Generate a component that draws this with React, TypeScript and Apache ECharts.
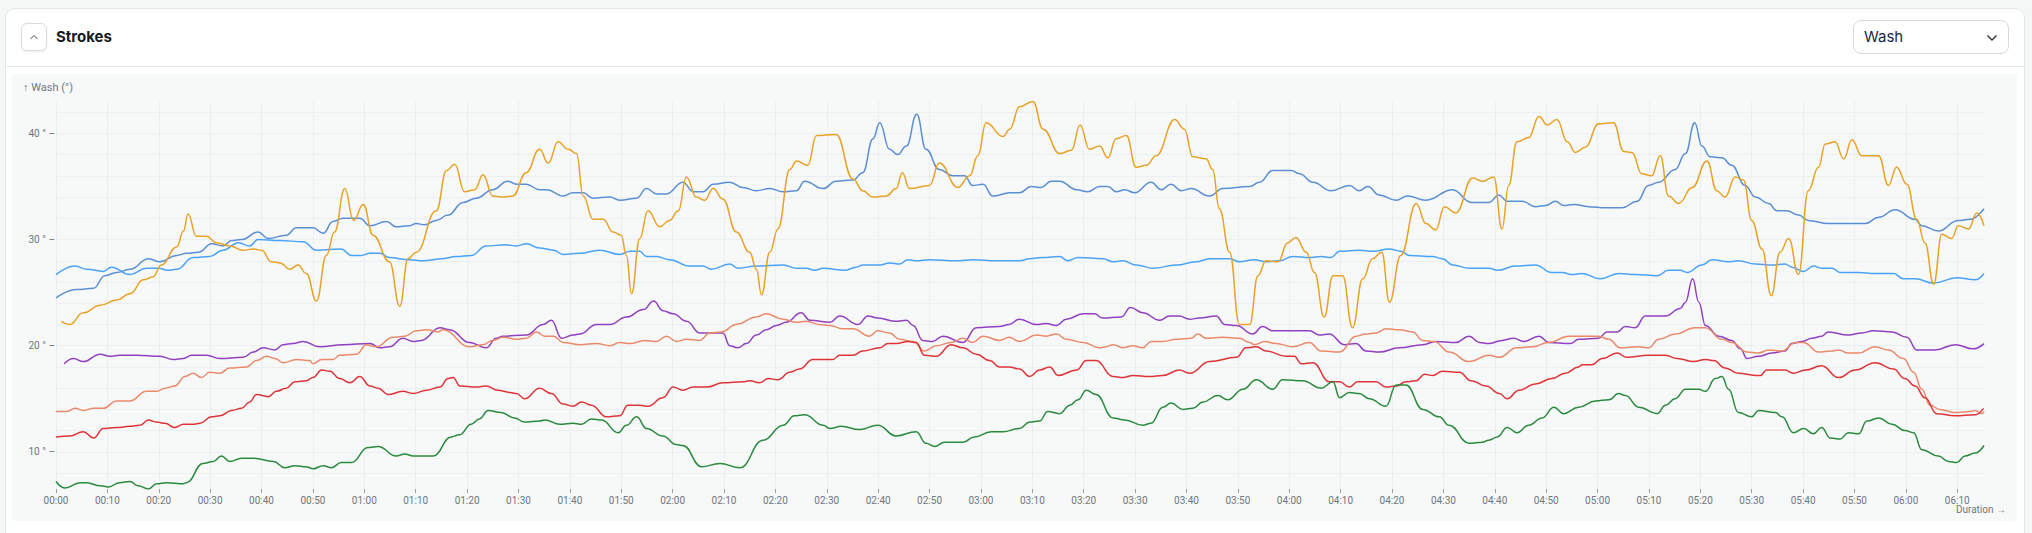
import { useEffect, useRef } from "react";
import * as echarts from "echarts";

// [minutes since start, wash angle in degrees]
const steelBlue: [number, number][] = [
  [0, 24.5], [4, 25.3], [7.3, 25.4], [9.5, 26.6], [11.8, 26.9], [14.4, 27.2], [18, 28.2], [20.2, 27.9],
  [23.5, 28.5], [25.4, 28.7], [27.7, 28.8], [30.3, 29.6], [32.5, 29.4], [34.2, 29.9], [36.1, 30.0],
  [39.3, 30.7], [41.3, 30.1], [44.8, 30.4], [46.8, 31.1], [50, 31.1], [52, 30.6], [53.9, 31.7],
  [55.9, 32.0], [59.1, 32.0], [61.1, 31.3], [64.3, 31.7], [66.2, 31.2], [68.8, 31.3], [70.1, 31.5],
  [71.7, 31.4], [74, 31.8], [76.3, 32.3], [79.2, 33.5], [81.8, 33.9], [85, 34.7], [87.9, 35.5],
  [89.6, 35.2], [91.5, 35.2], [94.1, 34.7], [95.5, 34.7], [98.7, 34.1], [100.6, 34.4], [102.6, 34.4],
  [104.5, 33.9], [107.8, 34.0], [109.7, 33.7], [113, 33.9], [114.9, 34.8], [116.9, 34.3], [118.8, 34.3],
  [122, 35.4], [124, 34.5], [125.9, 34.5], [127.9, 35.2], [131.1, 35.4], [133.7, 34.9], [136.3, 34.6],
  [138.9, 34.8], [141.5, 34.5], [144.1, 34.6], [145.7, 35.5], [149.3, 34.8], [151.8, 35.5], [155.1, 35.6],
  [157, 36.3], [159, 39.5], [160.3, 41.0], [162.2, 38.5], [163.8, 38.0], [165.5, 38.8], [167.5, 41.8],
  [169.3, 38.5], [171.9, 36.6], [174.5, 36.0], [176.8, 36.0], [178.4, 35.1], [180.4, 35.2], [182.3, 34.1],
  [185.6, 34.4], [187.5, 34.4], [189.8, 35.0], [191.7, 34.9], [193.7, 35.5], [195.3, 35.5], [198.6, 34.7],
  [200.8, 34.5], [203.1, 35.0], [204.7, 35.0], [206.3, 34.5], [208, 34.7], [209.9, 34.4], [213.1, 35.4],
  [215.1, 34.7], [217, 35.2], [219, 34.6], [220.9, 34.8], [224.5, 34.1], [227.1, 34.8], [232.3, 35.0],
  [234.2, 35.4], [236.8, 36.5], [240.4, 36.5], [242, 36.2], [244.6, 35.4], [248.1, 34.6], [251.7, 35.1],
  [253.6, 34.6], [255.3, 35.0], [257.5, 34.2], [260.8, 33.7], [263, 34.1], [266.6, 33.7], [271.8, 34.7],
  [275.4, 33.5], [278.9, 33.5], [280.8, 34.2], [282.4, 33.6], [285.3, 33.6], [287.9, 33.1], [289.9, 33.2],
  [291.8, 33.6], [293.4, 33.2], [295.4, 33.3], [298.3, 33.1], [301.5, 33.0], [304.8, 33.0], [307.7, 33.6],
  [309.9, 35.1], [311.9, 35.4], [315.1, 36.6], [317.1, 38.1], [318.9, 41.0], [320.3, 38.8], [321.9, 37.8],
  [324.2, 37.7], [326.1, 37.0], [328.7, 35.1], [330.7, 34.0], [333.3, 33.4], [334.9, 32.7], [336.8, 32.7],
  [339.1, 32.3], [341, 31.8], [344.9, 31.5], [348.8, 31.5], [352.1, 31.5], [354.7, 32.1], [357.9, 32.8],
  [361.8, 31.9], [363.1, 31.3], [366.3, 30.8], [370.2, 31.8], [372.5, 31.9], [375.2, 32.9],
];

const lightBlue: [number, number][] = [
  [0, 26.7], [3.7, 27.5], [6, 27.2], [9.2, 27.0], [10.8, 27.4], [14.4, 26.7], [17.6, 27.3], [19.9, 27.3],
  [21.8, 27.1], [23.5, 27.2], [26.7, 28.3], [29.9, 28.4], [32.5, 29.0], [35.5, 29.7], [37.7, 29.4],
  [39.3, 30.0], [43.6, 29.9], [48.1, 29.8], [50.7, 29.0], [55.5, 29.1], [57.5, 28.5], [59.4, 28.5],
  [61.1, 28.7], [63, 28.7], [64.9, 28.3], [68.8, 28.1], [71.4, 28.0], [75.3, 28.2], [77.9, 28.4],
  [80.8, 28.5], [83.7, 29.4], [87.6, 29.5], [89.6, 29.4], [91.5, 29.6], [94.1, 29.2], [96.8, 29.0],
  [98.7, 28.6], [101.9, 28.7], [105.8, 29.0], [109.7, 28.6], [111.7, 28.9], [113.6, 28.9], [114.9, 28.4],
  [116.9, 28.4], [119.4, 28.1], [123.3, 27.5], [125.9, 27.5], [127.5, 27.2], [131.1, 27.7], [132.7, 27.3],
  [136.3, 27.5], [141.5, 27.6], [144.1, 27.3], [146, 27.3], [147.6, 27.1], [149.3, 27.3], [153.5, 27.1],
  [155.7, 27.4], [157, 27.6], [160.3, 27.6], [162.2, 27.8], [164.2, 27.7], [165.8, 28.1], [167.4, 28.0],
  [170, 28.1], [175.2, 28.0], [178.4, 28.1], [183, 28.0], [187.5, 28.0], [189.5, 28.2], [192.1, 28.3],
  [195.3, 28.4], [196.9, 28.0], [198.9, 28.3], [203.7, 28.2], [205.7, 27.9], [207.6, 28.0], [210.2, 27.6],
  [213.5, 27.3], [218, 27.6], [221.9, 27.9], [224.5, 28.2], [228.4, 28.2], [230.3, 27.9], [233.2, 28.1],
  [235.5, 27.9], [238.1, 28.0], [240.7, 28.4], [243.9, 28.3], [246.2, 28.4], [248.1, 28.3], [249.8, 28.9],
  [253.6, 29.0], [256.2, 28.9], [259.5, 29.1], [261.7, 28.9], [263.4, 28.5], [267.9, 28.4], [269.8, 28.2],
  [271.8, 27.6], [275, 27.3], [278.9, 27.3], [280.5, 27.1], [284, 27.5], [287.9, 27.6], [291.1, 26.9],
  [293.1, 26.9], [295, 26.7], [297, 26.8], [300.5, 26.3], [304.1, 26.8], [307.3, 26.7], [311.6, 26.6],
  [313.8, 27.1], [316.1, 27.1], [317.4, 26.9], [320.3, 27.6], [322.3, 28.1], [325.5, 27.9], [327.4, 28.0],
  [330.7, 27.7], [333.9, 27.6], [336.5, 27.7], [337.8, 27.4], [340.1, 27.0], [342, 27.5], [343.6, 27.3],
  [345.6, 27.3], [347.2, 26.9], [350.8, 26.9], [354, 26.8], [357.6, 26.8], [359.5, 26.3], [361.8, 26.3],
  [365.4, 25.9], [369.9, 26.4], [373.5, 26.2], [375.2, 26.8],
];

const orange: [number, number][] = [
  [1, 22.3], [2.7, 22.0], [5.3, 23.1], [8.6, 23.8], [11.8, 24.3], [14.4, 24.9], [17, 26.2], [18.9, 26.5],
  [20.5, 27.6], [23.5, 29.3], [24.8, 30.8], [25.7, 32.4], [27.3, 30.3], [29.3, 30.3], [31.2, 29.7],
  [33.8, 29.4], [36.4, 29.0], [38.4, 29.1], [40, 29.0], [41.9, 27.9], [43.6, 27.8], [45.5, 27.2],
  [47.1, 27.6], [48.7, 26.8], [50.7, 24.2], [52.6, 28.5], [54.2, 30.7], [56.2, 34.8], [57.9, 31.8],
  [59.8, 33.3], [61.7, 30.4], [64.9, 27.9], [66.9, 23.7], [68.5, 28.2], [70.1, 28.8], [74, 32.7],
  [76, 36.5], [77.6, 37.1], [79.5, 34.5], [81.5, 34.7], [83.1, 36.1], [85, 34.1], [87, 34.0], [88.9, 34.1],
  [91.5, 36.3], [94.1, 38.5], [95.8, 37.2], [97.7, 39.2], [99.7, 38.5], [101.3, 38.1], [102.6, 34.1],
  [104.5, 31.9], [106.5, 31.9], [108.4, 30.7], [110, 30.4], [111, 28.5], [112, 24.9], [113.6, 30.1],
  [115.2, 32.7], [117.5, 31.2], [119.4, 31.8], [121.1, 32.7], [122.7, 35.9], [124.6, 34.0], [126.2, 33.7],
  [127.9, 34.8], [129.8, 33.8], [132.4, 30.7], [135, 28.8], [136.3, 27.2], [137.3, 24.8], [138.9, 28.8],
  [140.5, 31.0], [142.8, 36.6], [144.1, 37.4], [146.3, 37.0], [148, 39.8], [151.8, 39.9], [155.1, 35.7],
  [157, 34.6], [159, 34.0], [161.6, 34.1], [163.5, 34.8], [164.7, 36.3], [166.1, 34.8], [170, 35.1],
  [171.9, 37.2], [175.5, 34.9], [177.8, 36.0], [179.4, 37.9], [181, 41.0], [184.3, 39.7], [185.6, 40.4],
  [187.5, 42.5], [190.1, 43.0], [192.1, 40.4], [195.3, 38.1], [197.6, 38.4], [199.3, 40.8], [201.1, 38.5],
  [203.1, 38.8], [204.7, 37.7], [206.3, 39.5], [208.3, 39.8], [210.2, 36.8], [212.2, 37.0], [214.1, 37.9],
  [217.7, 41.3], [219.6, 40.4], [221.2, 37.8], [223.8, 37.6], [225.1, 36.6], [226.4, 32.9], [228.4, 28.8],
  [230.3, 22.0], [232.3, 22.0], [233.9, 26.6], [235.5, 28.0], [237.8, 27.9], [239.7, 29.7], [241.3, 30.2],
  [243.3, 28.8], [244.9, 26.9], [246.8, 22.7], [248.5, 26.6], [250.4, 26.6], [252.3, 21.7], [254.3, 26.3],
  [256.2, 28.2], [258, 28.8], [259.5, 24.1], [261.7, 28.5], [264.7, 33.4], [266.6, 31.5], [268.5, 30.9],
  [270.2, 33.1], [272.4, 32.5], [275.7, 35.8], [277.6, 35.5], [279.8, 35.9], [281.4, 31.0], [282.7, 35.1],
  [284.3, 39.2], [286.6, 39.6], [288.6, 41.6], [290.2, 40.8], [292.1, 41.3], [294.1, 39.2], [295.7, 38.2],
  [297.6, 38.7], [300.2, 40.9], [303.1, 41.0], [305.1, 38.3], [306.7, 38.2], [308.6, 36.2], [310.5, 36.0],
  [312.2, 37.9], [313.8, 34.1], [315.8, 33.4], [318.4, 34.9], [321.3, 37.4], [323.2, 34.6], [324.8, 34.0],
  [326.8, 35.9], [328.4, 35.6], [330, 31.8], [332, 29.1], [333.8, 24.7], [335.5, 28.8], [337.2, 30.1],
  [339.1, 26.7], [341, 34.6], [343, 36.8], [344.3, 39.0], [346.2, 39.2], [347.9, 37.6], [349.5, 39.4],
  [351.4, 37.9], [354.7, 37.9], [356.6, 35.1], [358.2, 36.8], [360.2, 35.2], [362.1, 31.9], [363.7, 29.7],
  [365.4, 25.8], [367, 30.5], [368.9, 30.1], [370.2, 31.3], [372.2, 31.0], [373.8, 32.5], [375.2, 31.3],
];

const purple: [number, number][] = [
  [1.6, 18.3], [3.4, 18.8], [5.3, 18.5], [8.6, 19.2], [10.5, 19.0], [12.4, 19.1], [15.7, 19.1], [20.2, 19.0],
  [22.8, 18.7], [24.8, 18.8], [26.4, 19.1], [29.3, 19.1], [31.9, 18.8], [36.4, 18.9], [38.4, 19.4],
  [40.3, 19.8], [42.6, 19.6], [44.2, 20.1], [46.1, 20.2], [48.1, 20.4], [51.3, 19.9], [55.9, 20.1],
  [61.1, 20.2], [63, 19.8], [64.9, 19.9], [67.5, 20.7], [69.5, 20.4], [71.1, 20.5], [74.7, 21.7],
  [76.6, 21.5], [80.5, 20.3], [83.7, 19.8], [85.7, 20.7], [87, 20.9], [91.5, 21.0], [94.8, 22.0],
  [96.4, 22.4], [98.4, 20.7], [100.6, 21.0], [101.9, 21.1], [105.2, 22.0], [107.8, 22.0], [111, 22.7],
  [114.3, 23.4], [116.3, 24.2], [118.1, 23.3], [120.1, 23.0], [122.7, 22.3], [125.3, 21.2], [129.8, 21.2],
  [131.1, 20.0], [132.7, 19.8], [134.3, 20.2], [136.3, 21.0], [138.2, 21.5], [140.2, 21.9], [142.1, 22.2],
  [145, 23.1], [146.7, 22.4], [150.6, 22.2], [152.5, 22.8], [156.1, 22.0], [158, 22.8], [159.9, 22.6],
  [163.5, 22.3], [165.5, 22.4], [166.8, 21.9], [168.7, 20.5], [170.6, 20.4], [172.6, 20.9], [176.5, 20.3],
  [179.1, 21.7], [183.6, 21.8], [185.5, 22.0], [187.5, 22.5], [190.8, 22.0], [192.7, 22.1], [194.7, 21.9],
  [196.6, 22.5], [199.9, 23.0], [202.1, 23.0], [203.7, 22.6], [207.3, 22.7], [209.1, 23.6], [211.5, 23.1],
  [214.8, 22.4], [216.7, 22.8], [218.6, 22.8], [220.6, 22.5], [222.5, 22.6], [225.8, 22.8], [227.4, 22.0],
  [229.7, 21.9], [232.9, 21.1], [234.8, 21.8], [236.8, 21.4], [240, 21.4], [243.9, 21.4], [245.9, 21.0],
  [247.8, 21.1], [250.7, 20.1], [253, 20.2], [254.9, 19.5], [257.5, 19.4], [261.4, 19.8], [266, 20.1],
  [268.5, 20.4], [272.4, 20.3], [275, 20.9], [277, 20.3], [278.8, 20.2], [281.4, 20.5], [283.7, 20.7],
  [285.6, 20.4], [288.6, 20.9], [290.5, 20.3], [294.7, 20.2], [296.3, 20.6], [300.2, 20.7], [301.8, 21.3],
  [303.8, 21.3], [305.4, 21.8], [307.3, 21.7], [309.3, 22.8], [313.2, 22.8], [316.1, 23.5], [317.1, 24.1],
  [318.5, 26.3], [319.7, 24.1], [321, 21.9], [323.6, 20.9], [326.1, 20.5], [327.8, 19.7], [329.1, 18.8],
  [331.3, 19.0], [333.9, 19.3], [336.5, 19.5], [337.8, 20.2], [339.8, 20.4], [341.7, 20.7], [343.6, 20.9],
  [344.9, 21.3], [348.8, 21.0], [351.4, 21.2], [353.7, 21.4], [357.3, 21.3], [360.2, 20.8], [362.1, 19.6],
  [365.7, 19.6], [369.6, 20.1], [373.1, 19.7], [375.2, 20.2],
];

const salmon: [number, number][] = [
  [0, 13.8], [2.1, 13.8], [3.7, 14.1], [5.3, 13.9], [7.3, 14.1], [9.2, 14.1], [11.8, 14.8], [14.4, 14.8],
  [17.6, 15.7], [19.6, 15.7], [21.2, 16.0], [23.1, 16.2], [25.1, 17.1], [26.7, 17.4], [28.3, 17.0],
  [29.9, 17.5], [31.9, 17.4], [33.8, 17.9], [37.1, 18.0], [39, 18.6], [41, 19.0], [42.6, 18.8], [44.2, 18.4],
  [46.8, 18.7], [49.4, 18.6], [50, 18.3], [51.7, 18.7], [53.9, 18.7], [55.2, 19.1], [58.5, 19.2],
  [60.4, 20.1], [62.3, 19.9], [65.6, 20.8], [67.9, 20.9], [70.1, 21.4], [72.1, 21.5], [74.3, 21.3],
  [75.3, 21.5], [80.5, 19.9], [83.1, 20.1], [85, 20.5], [87, 20.8], [89.6, 20.6], [91.5, 20.7],
  [93.5, 21.3], [95.1, 20.9], [96.8, 20.9], [98.7, 20.3], [101.9, 20.1], [105.2, 20.2], [107.8, 20.0],
  [109.7, 20.3], [111.7, 20.2], [114.6, 20.5], [116.9, 20.4], [118.8, 20.9], [120.7, 20.4], [122.7, 20.6],
  [125.3, 20.5], [127.2, 21.2], [129.5, 21.3], [132.4, 22.0], [136.3, 22.7], [138.2, 23.0], [141.5, 22.5],
  [144.1, 22.2], [146, 22.3], [148.6, 22.0], [150.6, 21.9], [153.1, 21.6], [155.1, 21.6], [158.3, 20.9],
  [159.9, 21.4], [162.2, 21.2], [164.2, 20.6], [166.8, 20.4], [169, 19.5], [171.3, 20.0], [174.2, 20.3],
  [176.5, 20.7], [178.4, 20.3], [180.4, 20.9], [183.6, 20.5], [185.5, 20.8], [187.5, 20.4], [190.8, 21.0],
  [192.7, 20.9], [194.7, 21.1], [196.6, 20.6], [199.9, 20.3], [203.1, 19.8], [204.4, 19.9], [205.7, 20.1],
  [207.6, 19.8], [209.6, 20.0], [211.5, 19.8], [213.1, 20.4], [215.4, 20.4], [218, 20.6], [220.9, 20.7],
  [222.2, 21.1], [223.8, 20.7], [227.1, 20.8], [230.3, 20.7], [232.3, 20.3], [233.2, 20.1], [235.2, 20.4],
  [237.4, 20.2], [240.7, 19.9], [243.9, 20.3], [246.2, 19.5], [249.8, 19.4], [253, 20.9], [254.9, 21.1],
  [256.9, 21.2], [258.8, 21.6], [261.4, 21.5], [264, 21.3], [266, 20.5], [268.2, 20.4], [271.1, 19.4],
  [275, 18.5], [278.9, 19.1], [280.8, 18.9], [284.3, 19.8], [287.3, 19.9], [290.5, 20.3], [294.4, 20.9],
  [300.2, 20.9], [302.2, 20.6], [304.4, 19.8], [308, 19.9], [309.9, 19.8], [311.9, 20.6], [315.1, 21.1],
  [319, 21.7], [321, 21.7], [324.2, 20.6], [326.1, 20.3], [329.1, 19.4], [331.3, 19.3], [333.3, 19.6],
  [335.9, 19.5], [338.5, 20.3], [340.1, 20.3], [343, 19.4], [345.6, 19.5], [346.9, 19.6], [348.8, 19.3],
  [350.8, 19.3], [354, 19.9], [356.6, 19.6], [359.5, 18.8], [361.5, 17.5], [363.1, 15.9], [364.7, 14.4],
  [366.6, 14.0], [369.6, 13.7], [372.5, 13.8], [373.5, 13.9], [374.8, 13.6], [375.2, 13.8],
];

const red: [number, number][] = [
  [0, 11.4], [2.7, 11.5], [5.3, 11.9], [7.3, 11.3], [9.2, 12.2], [11.8, 12.3], [14.4, 12.4], [16.3, 12.5],
  [18, 13.0], [19.6, 12.8], [21.2, 12.7], [23.1, 12.3], [24.8, 12.6], [26.7, 12.6], [28, 12.7],
  [30.3, 13.3], [31.9, 13.4], [34.2, 13.9], [36.1, 14.1], [37.7, 14.7], [39, 15.4], [41.3, 15.2],
  [42.9, 15.7], [44.8, 16.0], [46.5, 16.6], [48.7, 16.7], [50, 17.0], [51.7, 17.7], [53.3, 17.6],
  [55.2, 16.9], [57.2, 16.5], [59.1, 17.1], [61.1, 16.2], [62.7, 16.0], [64.6, 15.4], [67.5, 15.7],
  [69.5, 15.5], [72.1, 15.8], [74.7, 16.1], [76.3, 16.9], [77.3, 17.0], [78.6, 16.2], [81.8, 16.1],
  [83.7, 16.2], [86, 15.8], [88.3, 15.6], [89.6, 15.5], [91.2, 15.0], [94.1, 16.0], [96.4, 15.5],
  [98.7, 14.5], [100.6, 14.3], [102.3, 14.7], [104.2, 14.4], [107.1, 13.3], [109.7, 13.4], [111.3, 14.4],
  [113.6, 14.4], [115.2, 14.3], [118.1, 15.1], [120.1, 16.1], [122, 15.8], [124, 16.1], [126.6, 16.1],
  [129.8, 16.5], [133.7, 16.6], [135, 16.7], [136.9, 16.5], [138.6, 16.9], [140.5, 16.8], [142.8, 17.5],
  [144.7, 17.8], [147.3, 18.7], [151.2, 18.7], [152.5, 19.1], [155.1, 19.1], [157, 19.5], [160.3, 19.8],
  [161.9, 20.2], [163.5, 20.2], [165.8, 20.4], [167.4, 20.3], [169, 19.1], [171.3, 19.0], [174.2, 20.1],
  [176.5, 19.8], [179.1, 19.2], [181.7, 18.6], [183.6, 18.0], [185.5, 18.0], [187.5, 17.8], [189.5, 17.1],
  [191.4, 17.7], [193.4, 18.0], [195, 17.2], [198.6, 17.7], [200.5, 18.6], [202.4, 18.6], [205.7, 17.1],
  [207.6, 17.0], [209.6, 17.2], [212.8, 17.1], [215.4, 17.2], [218.6, 17.7], [220.6, 17.4], [224.5, 18.5],
  [229.7, 18.9], [231.6, 19.8], [233.6, 19.9], [235.5, 19.5], [239.4, 19.0], [241, 19.0], [242.3, 18.3],
  [244.6, 18.4], [247.8, 16.6], [249.8, 16.6], [251.7, 16.1], [253.3, 16.6], [256.9, 16.6], [258.8, 16.1],
  [260.8, 16.2], [262.7, 16.6], [264.7, 16.7], [266.3, 17.3], [267.9, 17.2], [269.8, 17.6], [273.1, 17.5],
  [275.4, 16.7], [278.3, 16.2], [280.9, 15.5], [282.4, 15.0], [284.7, 15.8], [287.9, 16.4], [291.1, 16.9],
  [293.7, 17.4], [296.3, 18.0], [297, 18.2], [298.9, 18.2], [300.9, 18.8], [303.8, 19.3], [305.7, 18.9],
  [309.9, 19.1], [313.2, 19.1], [315.5, 18.8], [318.7, 18.5], [321, 18.7], [322.6, 18.6], [324.8, 17.9],
  [327.4, 17.4], [330.7, 17.2], [331.7, 17.2], [332.9, 17.7], [336.5, 17.7], [338.1, 17.4], [340.4, 17.7],
  [343.6, 18.1], [346.9, 17.0], [350.1, 17.7], [354, 18.4], [357.6, 17.8], [359.8, 16.9], [361.8, 16.2],
  [363.7, 15.1], [366, 13.6], [369.6, 13.4], [373.5, 13.5], [375.1, 14.1],
];

const green: [number, number][] = [
  [0, 7.2], [1.7, 6.6], [4.7, 7.1], [6, 7.1], [8.6, 6.8], [10.2, 6.7], [12.4, 7.1], [14.4, 7.2], [16, 6.8],
  [18, 6.5], [19.6, 7.0], [21.5, 7.1], [24.8, 7.0], [25.4, 7.1], [28.6, 8.9], [30.6, 9.1], [32.2, 9.6],
  [33.8, 9.1], [36.1, 9.4], [38.4, 9.4], [42.3, 9.1], [44.5, 8.5], [46.5, 8.7], [48.7, 8.6], [50, 8.4],
  [52, 8.7], [53.6, 8.5], [55.5, 9.0], [57.5, 9.0], [60.7, 10.4], [62.7, 10.5], [66.2, 9.6], [67.9, 9.8],
  [69.5, 9.6], [73.4, 9.6], [76.9, 11.4], [78.5, 11.6], [80.8, 12.6], [82.4, 13.1], [84.1, 13.9],
  [86.6, 13.7], [89.2, 13.2], [91.2, 12.8], [94.1, 12.9], [95.1, 13.0], [98.1, 12.6], [100.6, 12.7],
  [102.3, 12.6], [104.2, 13.1], [106.2, 13.0], [109.4, 11.8], [111, 12.5], [113, 13.3], [114.9, 12.2],
  [118.1, 11.5], [120.7, 10.7], [122, 10.6], [125.6, 8.6], [129.2, 8.9], [133.1, 8.5], [137.6, 11.1],
  [141.5, 12.5], [143.7, 13.4], [145.7, 13.5], [149.3, 12.5], [150.6, 12.2], [152.8, 12.4], [156.4, 12.1],
  [159.9, 12.5], [163.5, 11.5], [167.4, 11.9], [169.3, 10.8], [171, 10.5], [172.9, 10.9], [176.5, 10.9],
  [178.7, 11.4], [182, 11.9], [184.3, 11.9], [187.5, 12.2], [189.5, 12.8], [191.4, 12.9], [193, 13.8],
  [195.3, 13.6], [197.3, 14.4], [198.9, 14.9], [200.5, 15.8], [202.4, 15.4], [205.7, 13.2], [208, 13.0],
  [211.5, 12.5], [213.1, 12.7], [215.4, 14.2], [217, 14.6], [219.3, 14.0], [221.2, 14.1], [223.2, 14.7],
  [226.1, 15.3], [228, 14.9], [231, 15.9], [233.6, 16.8], [236.8, 15.9], [238.7, 16.8], [242.6, 16.7],
  [246.2, 16.0], [248.5, 16.6], [249.8, 15.1], [251.7, 15.6], [253.6, 15.5], [255.6, 15.0], [258.8, 14.3],
  [260.8, 16.3], [262.7, 16.3], [266, 14.0], [269.2, 13.3], [271.1, 12.5], [275, 10.8], [277.6, 10.9],
  [278.8, 11.1], [280.5, 11.4], [282.4, 12.3], [284.3, 11.8], [286.6, 12.5], [289.2, 13.2], [291.5, 14.2],
  [293.4, 13.6], [296.3, 14.2], [299.6, 14.8], [302.2, 14.9], [304.1, 15.5], [305.4, 15.3], [308, 14.2],
  [311.6, 13.6], [313.2, 14.4], [315.1, 15.0], [317.1, 15.9], [319.7, 15.9], [321, 15.7], [322.9, 16.9],
  [324.2, 17.1], [325.5, 15.9], [327.4, 13.7], [330, 13.3], [331.3, 13.9], [334.6, 13.7], [335.9, 13.3],
  [338.1, 11.8], [340.1, 12.2], [342, 11.7], [343.6, 12.3], [345.3, 11.3], [347.2, 11.2], [348.8, 11.8],
  [350.8, 11.7], [352.4, 12.9], [354.7, 13.2], [357.3, 12.6], [359.8, 12.0], [361.5, 11.8], [363.1, 10.2],
  [366.3, 9.6], [368.3, 9.1], [369.9, 9.0], [371.5, 9.6], [373.5, 9.9], [375.2, 10.6],
];

const xTickMinutes = [
  0, 10, 20, 30, 40, 50, 60, 70, 80, 90, 100, 110, 120, 130, 140, 150, 160, 170, 180,
  190, 200, 210, 220, 230, 240, 250, 260, 270, 280, 290, 300, 310, 320, 330, 340, 350, 360, 370,
];
const yGridValues = [8, 10, 12, 14, 16, 18, 20, 22, 24, 26, 28, 30, 32, 34, 36, 38, 40, 42];
const yLabelValues = [10, 20, 30, 40];

const lines = [
  { name: "Stroke A", color: "#5b8fd4", data: steelBlue },
  { name: "Stroke B", color: "#4aa3f7", data: lightBlue },
  { name: "Stroke C", color: "#e9a127", data: orange },
  { name: "Stroke D", color: "#9240c0", data: purple },
  { name: "Stroke E", color: "#ea8a6b", data: salmon },
  { name: "Stroke F", color: "#df3437", data: red },
  { name: "Stroke G", color: "#2a8a3d", data: green },
];

const axisFont = "'Liberation Sans Narrow', 'Roboto', sans-serif";
const axisGrey = "#6f767e";

const pad = (n: number) => String(n).padStart(2, "0");
const fmtDuration = (m: number) => `${pad(Math.floor(m / 60))}:${pad(Math.round(m % 60))}`;

function StrokesChart() {
  const chartRef = useRef<HTMLDivElement>(null);

  useEffect(() => {
    if (!chartRef.current) return;
    const chart = echarts.init(chartRef.current, undefined, { renderer: "svg" });

    chart.setOption({
      animation: false,
      backgroundColor: "transparent",
      grid: { left: 44, right: 33, top: 27, bottom: 32 },
      xAxis: {
        type: "value",
        min: 0,
        max: 375.2,
        axisLine: { show: false },
        axisTick: {
          show: true,
          length: 4,
          customValues: xTickMinutes,
          lineStyle: { color: "#9aa1a8", width: 1 },
        },
        axisLabel: {
          customValues: xTickMinutes,
          formatter: (v: number) => fmtDuration(v),
          color: axisGrey,
          fontSize: 10,
          fontFamily: axisFont,
          margin: 6,
        },
        splitLine: { show: true, lineStyle: { color: "#eceff1", width: 1 } },
      },
      yAxis: {
        type: "value",
        min: 6.5,
        max: 43.05,
        axisLine: { show: false },
        axisTick: { show: false, customValues: yGridValues },
        axisLabel: {
          customValues: yLabelValues,
          formatter: (v: number) => `${v} ° –`,
          color: axisGrey,
          fontSize: 10,
          fontFamily: axisFont,
          margin: 1,
        },
        splitLine: { show: true, lineStyle: { color: "#eceff1", width: 1 } },
      },
      graphic: [
        {
          type: "text",
          left: 11,
          top: 8,
          style: { text: "↑ Wash (°)", fill: axisGrey, fontSize: 11, fontFamily: axisFont },
        },
        {
          type: "text",
          right: 11,
          top: 430,
          style: { text: "Duration →", fill: axisGrey, fontSize: 10, fontFamily: axisFont },
        },
      ],
      series: lines.map((l) => ({
        name: l.name,
        type: "line",
        data: l.data,
        smooth: 0.45,
        smoothMonotone: "x",
        showSymbol: false,
        symbol: "none",
        lineStyle: { color: l.color, width: 1.5 },
        itemStyle: { color: l.color },
      })),
    });

    return () => {
      chart.dispose();
    };
  }, []);

  return (
    <div
      ref={chartRef}
      style={{
        position: "absolute",
        left: 12,
        top: 74,
        width: 2005,
        height: 447,
        background: "#f7f9f9",
        borderRadius: 4,
      }}
    />
  );
}

export default function App() {
  return (
    <div
      style={{
        position: "fixed",
        left: 0,
        top: 0,
        width: 2032,
        height: 533,
        overflow: "hidden",
        background: "#f5f7f7",
        fontFamily: "Inter, 'Noto Sans', sans-serif",
      }}
    >
      <div
        style={{
          position: "absolute",
          left: 5,
          top: 8,
          width: 2020,
          height: 580,
          boxSizing: "border-box",
          border: "1px solid #e3e6e9",
          borderRadius: 10,
          background: "#ffffff",
        }}
      />
      {/* collapse button */}
      <div
        style={{
          position: "absolute",
          left: 21,
          top: 23,
          width: 26,
          height: 28,
          boxSizing: "border-box",
          border: "1px solid #d9dde1",
          borderRadius: 6,
          background: "#fff",
          boxShadow: "0 1px 2px rgba(16,24,40,0.08)",
          display: "flex",
          alignItems: "center",
          justifyContent: "center",
        }}
      >
        <svg width="10" height="6" viewBox="0 0 10 6">
          <polyline points="1.5,5 5,1.5 8.5,5" fill="none" stroke="#8a9097" strokeWidth="1.1" />
        </svg>
      </div>
      <div
        style={{
          position: "absolute",
          left: 56,
          top: 27,
          fontSize: 15,
          lineHeight: "20px",
          fontWeight: 700,
          color: "#161a21",
        }}
      >
        Strokes
      </div>
      {/* measure dropdown */}
      <div
        style={{
          position: "absolute",
          left: 1853,
          top: 20,
          width: 156,
          height: 34,
          boxSizing: "border-box",
          border: "1px solid #d6dade",
          borderRadius: 8,
          background: "#fff",
        }}
      >
        <div
          style={{
            position: "absolute",
            left: 10,
            top: 6,
            fontSize: 15,
            lineHeight: "20px",
            color: "#1d2740",
          }}
        >
          Wash
        </div>
        <svg
          width="12"
          height="8"
          viewBox="0 0 12 8"
          style={{ position: "absolute", left: 132, top: 13 }}
        >
          <polyline points="1.5,1.5 6,6 10.5,1.5" fill="none" stroke="#2b3039" strokeWidth="1.3" />
        </svg>
      </div>
      <div
        style={{
          position: "absolute",
          left: 6,
          top: 66,
          width: 2018,
          height: 1,
          background: "#e7eaec",
        }}
      />
      <StrokesChart />
    </div>
  );
}
